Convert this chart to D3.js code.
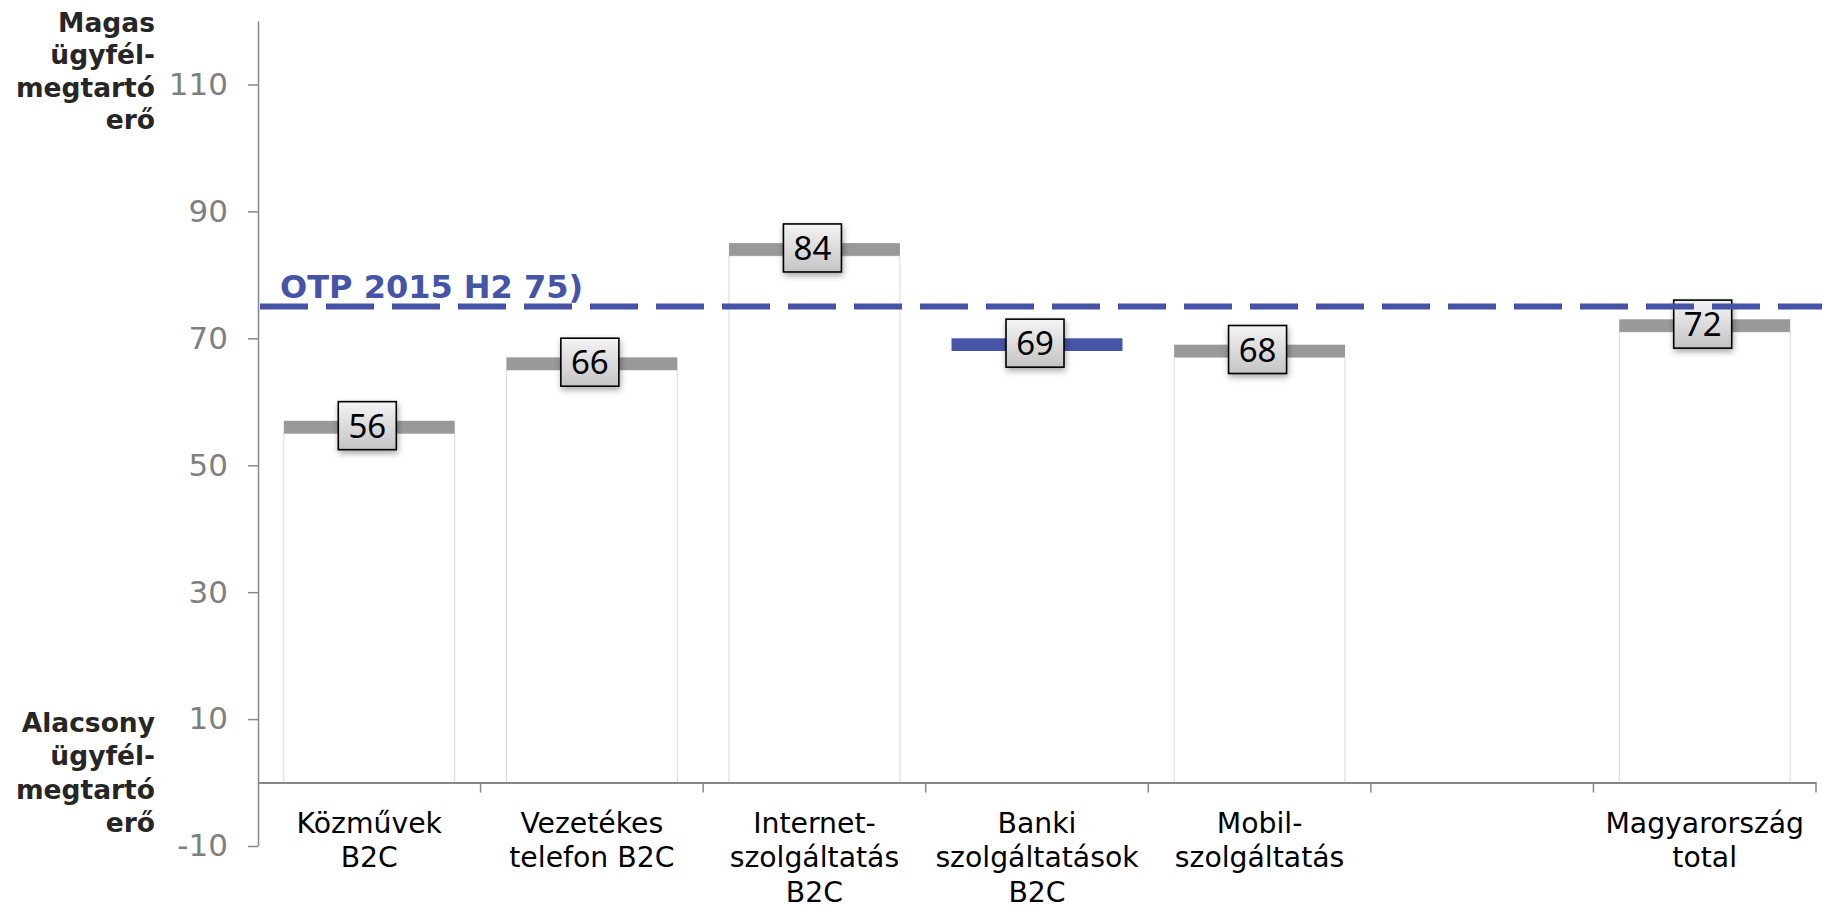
<!DOCTYPE html>
<html>
<head>
<meta charset="utf-8">
<title>Ügyfélmegtartó erő</title>
<script src="https://d3js.org/d3.v7.min.js"></script>
<style>
  body { margin: 0; background: #fff; }
  svg { display: block; }
</style>
</head>
<body>
<div id="chart"></div>
<script>
// data
var categories = ["Közművek B2C", "Vezetékes telefon B2C", "Internet-szolgáltatás B2C",
                  "Banki szolgáltatások B2C", "Mobil-szolgáltatás", "", "Magyarország total"];
var labelLines = [["Közművek", "B2C"], ["Vezetékes", "telefon B2C"], ["Internet-", "szolgáltatás", "B2C"],
                  ["Banki", "szolgáltatások", "B2C"], ["Mobil-", "szolgáltatás"], [], ["Magyarország", "total"]];
var values = [56, 66, 84, 69, 68, null, 72];
var highlight = "Banki szolgáltatások B2C";
var benchmark = 75;
var benchmarkLabel = "OTP 2015 H2 75)";
var yTicks = [-10, 10, 30, 50, 70, 90, 110];
var topTitle = ["Magas", "ügyfél-", "megtartó", "erő"];
var bottomTitle = ["Alacsony", "ügyfél-", "megtartó", "erő"];

var W = 1822, H = 906;
var blue = "#4554a6", gray = "#999999";

var svg = d3.select("#chart").append("svg")
    .attr("width", W)
    .attr("height", H);

var defs = svg.append("defs");
var grad = defs.append("linearGradient").attr("id", "boxGrad")
    .attr("x1", 0).attr("y1", 0).attr("x2", 0).attr("y2", 1);
grad.append("stop").attr("offset", "0%").attr("stop-color", "#f4f4f4");
grad.append("stop").attr("offset", "100%").attr("stop-color", "#c4c4c4");
var shadow = defs.append("filter").attr("id", "shadow")
    .attr("x", "-30%").attr("y", "-30%").attr("width", "160%").attr("height", "170%");
shadow.append("feDropShadow").attr("dx", 1).attr("dy", 3)
    .attr("stdDeviation", 3).attr("flood-color", "#000").attr("flood-opacity", 0.35);

var x = d3.scaleBand()
    .domain(categories)
    .range([258, 1816])
    .padding(0);

var y = d3.scaleLinear()
    .domain([-10, 120])
    .range([846, 21]);

var barW = x.bandwidth() * 0.768;
function cx(d) { return x(d) + x.bandwidth() / 2; }

// y axis
var yAxis = svg.append("g")
    .attr("transform", "translate(258,0)")
    .call(d3.axisLeft(y).tickValues(yTicks).tickSize(10).tickSizeOuter(0).tickPadding(20)
        .tickFormat(function(d) { return String(d); }));
yAxis.select(".domain").attr("stroke", "#888").attr("stroke-width", 1.5);
yAxis.selectAll(".tick line").attr("stroke", "#888").attr("stroke-width", 1.5);
yAxis.selectAll(".tick text")
    .attr("fill", "#7f7f7f")
    .style("font-family", "DejaVu Sans")
    .style("font-size", "31px");

// y titles
function drawTitle(lines, y0, lh) {
    var t = svg.append("text")
        .attr("text-anchor", "end")
        .style("font-family", "DejaVu Sans")
        .style("font-weight", "bold")
        .style("font-size", "26.5px")
        .attr("fill", "#262626");
    lines.forEach(function(l, i) {
        t.append("tspan").attr("x", 155).attr("y", y0 + i * lh).text(l);
    });
}
drawTitle(topTitle, 32, 32.3);
drawTitle(bottomTitle, 732, 33.3);

// bars
var data = categories.map(function(c, i) { return {cat: c, value: values[i], lines: labelLines[i]}; })
    .filter(function(d) { return d.value != null; });

svg.selectAll(".bar")
    .data(data.filter(function(d) { return d.cat !== highlight; }))
    .enter().append("rect")
    .attr("class", "bar")
    .attr("x", function(d) { return cx(d.cat) - barW / 2; })
    .attr("width", barW)
    .attr("y", function(d) { return y(d.value - 1); })
    .attr("height", function(d) { return y(0) - y(d.value - 1); })
    .attr("fill", "#fff")
    .attr("stroke", "#d9d9d9")
    .attr("stroke-width", 1);

svg.selectAll(".level")
    .data(data)
    .enter().append("rect")
    .attr("class", "level")
    .attr("x", function(d) { return cx(d.cat) - barW / 2; })
    .attr("width", barW)
    .attr("y", function(d) { return y(d.value + 1); })
    .attr("height", function(d) { return y(d.value - 1) - y(d.value + 1); })
    .attr("fill", function(d) { return d.cat === highlight ? blue : gray; });

// x axis
var xAxis = svg.append("g")
    .attr("transform", "translate(0," + y(0) + ")")
    .call(d3.axisBottom(x).tickSize(0).tickSizeOuter(0).tickFormat(""));
xAxis.select(".domain").attr("stroke", "#888").attr("stroke-width", 2);
svg.selectAll(".sep")
    .data(categories)
    .enter().append("line")
    .attr("class", "sep")
    .attr("x1", function(d) { return x(d) + x.bandwidth(); })
    .attr("x2", function(d) { return x(d) + x.bandwidth(); })
    .attr("y1", y(0))
    .attr("y2", y(0) + 10)
    .attr("stroke", "#888")
    .attr("stroke-width", 1.5);

// category labels
var cl = svg.selectAll(".cat")
    .data(categories.map(function(c, i) { return {cat: c, lines: labelLines[i]}; }))
    .enter().append("text")
    .attr("class", "cat")
    .attr("text-anchor", "middle")
    .style("font-family", "DejaVu Sans")
    .style("font-size", "28.3px")
    .attr("fill", "#000");
cl.each(function(d) {
    var t = d3.select(this);
    d.lines.forEach(function(l, i) {
        t.append("tspan").attr("x", cx(d.cat)).attr("y", y(0) + 50 + i * 34.5).text(l);
    });
});

// value boxes
var boxes = svg.selectAll(".vbox")
    .data(data)
    .enter().append("g")
    .attr("class", "vbox")
    .attr("transform", function(d) { return "translate(" + (cx(d.cat) - 2) + "," + (y(d.value) - 1.5) + ")"; });
boxes.append("rect")
    .attr("x", -29).attr("y", -24)
    .attr("width", 58).attr("height", 48)
    .attr("fill", "url(#boxGrad)")
    .attr("stroke", "#000")
    .attr("stroke-width", 1.6)
    .attr("filter", "url(#shadow)");
boxes.append("text")
    .attr("text-anchor", "middle")
    .attr("y", 12)
    .style("font-family", "Noto Sans")
    .style("font-size", "33px")
    .attr("fill", "#000")
    .text(function(d) { return d.value; });

// benchmark line
svg.append("line")
    .attr("x1", 260).attr("x2", W)
    .attr("y1", y(benchmark)).attr("y2", y(benchmark))
    .attr("stroke", blue)
    .attr("stroke-width", 6)
    .attr("stroke-dasharray", "48,18");
svg.append("text")
    .attr("x", 280)
    .attr("y", y(benchmark) - 9)
    .style("font-family", "DejaVu Sans")
    .style("font-weight", "bold")
    .style("font-size", "32px")
    .attr("fill", blue)
    .text(benchmarkLabel);
</script>
</body>
</html>
